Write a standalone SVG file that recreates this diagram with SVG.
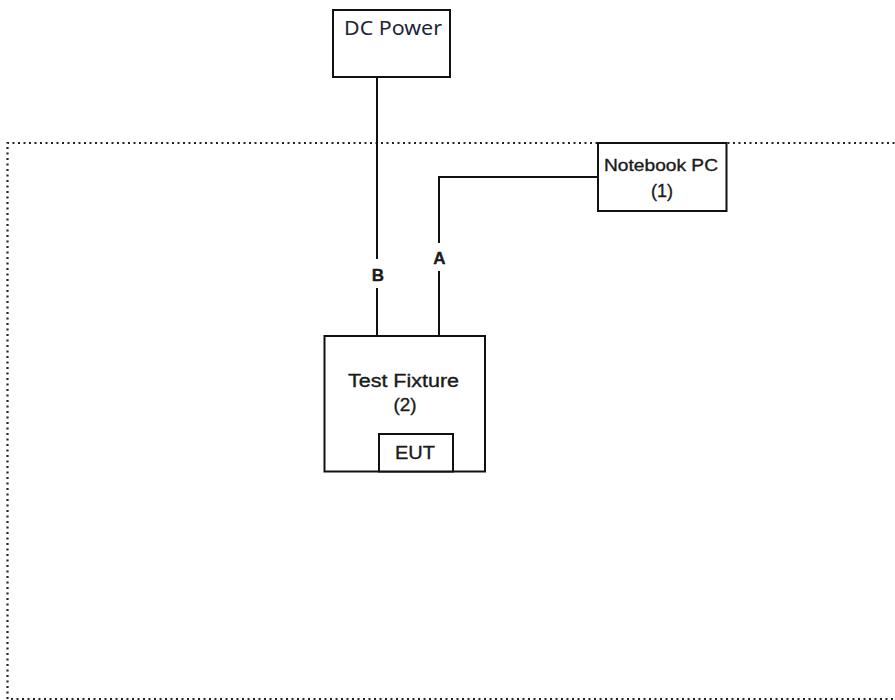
<svg xmlns="http://www.w3.org/2000/svg" width="895" height="700" viewBox="0 0 895 700">
<style>
.box{fill:#fff;stroke:#111;stroke-width:2}
.wire{fill:none;stroke:#111;stroke-width:2}
.lbl{font-family:"Liberation Sans",Arial,sans-serif;fill:#1a1a1a;stroke:#1a1a1a;stroke-width:0.35;text-anchor:middle}
.seg{font-family:"Noto Sans","Open Sans",sans-serif;fill:#1c2638;text-anchor:middle}
</style>
<rect width="895" height="700" fill="#fff"/>
<path id="boundary" d="M900,143 H7.5 V699 H900" fill="none" stroke="#222" stroke-width="2.2" stroke-dasharray="2 3.5"/>
<g id="connectors">
<path class="wire" d="M377,77 V259 M377,288 V336"/>
<path class="wire" d="M598,177 H439 V243 M439,271 V336"/>
<text class="lbl" x="378" y="281" font-size="17" font-weight="bold" stroke-width="0">B</text>
<text class="lbl" x="439.5" y="264" font-size="17" font-weight="bold" stroke-width="0">A</text>
</g>
<g id="dc-power">
<rect class="box" x="333" y="10" width="117" height="67"/>
<text class="seg" x="393" y="35" font-size="19.5" textLength="98" lengthAdjust="spacingAndGlyphs">DC Power</text>
</g>
<g id="notebook-pc">
<rect class="box" x="598" y="143" width="128.5" height="68"/>
<text class="lbl" x="661" y="171" font-size="17" textLength="114" lengthAdjust="spacingAndGlyphs">Notebook PC</text>
<text class="lbl" x="662" y="197" font-size="18" textLength="22" lengthAdjust="spacingAndGlyphs">(1)</text>
</g>
<g id="test-fixture">
<rect class="box" x="324.5" y="336" width="160.5" height="135.5"/>
<text class="lbl" x="403.5" y="387" font-size="18" textLength="111" lengthAdjust="spacingAndGlyphs">Test Fixture</text>
<text class="lbl" x="405" y="411" font-size="18" textLength="23" lengthAdjust="spacingAndGlyphs">(2)</text>
</g>
<g id="eut">
<rect class="box" x="379" y="434" width="74" height="37.5"/>
<text class="lbl" x="415" y="459" font-size="19" textLength="40" lengthAdjust="spacingAndGlyphs">EUT</text>
</g>
</svg>
